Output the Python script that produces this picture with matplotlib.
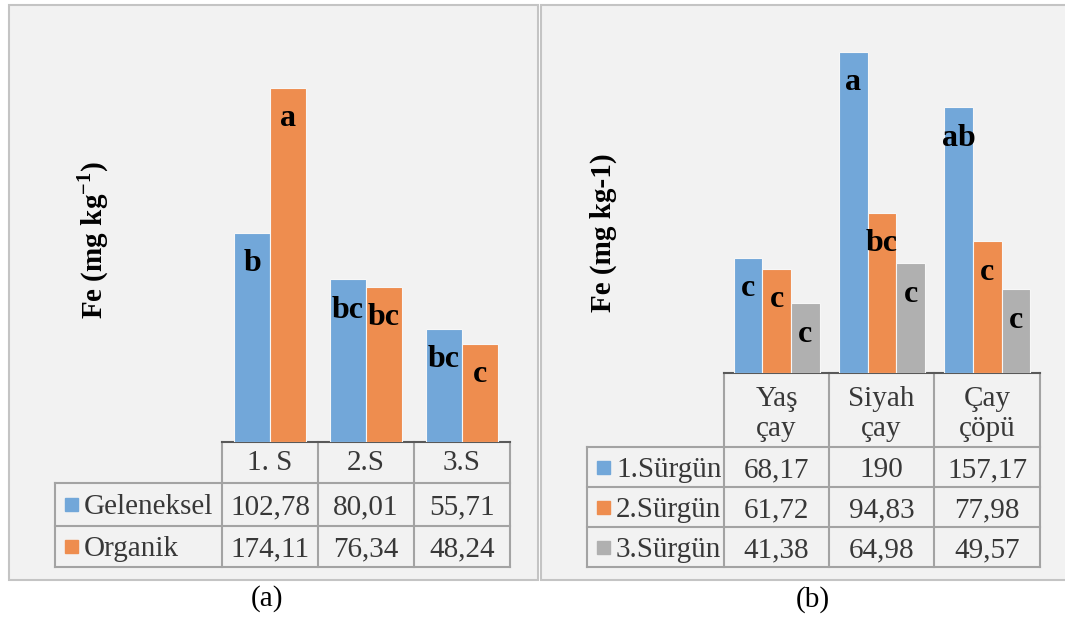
import matplotlib.pyplot as plt
import numpy as np
from matplotlib.patches import Rectangle

plt.rcParams['font.family'] = ['Liberation Serif', 'DejaVu Serif']
plt.rcParams['mathtext.fontset'] = 'custom'
plt.rcParams['mathtext.rm'] = 'Liberation Serif'
plt.rcParams['mathtext.bf'] = 'Liberation Serif:bold'

# panel (a) data
cats_a = ["1. S", "2.S", "3.S"]
series_a = ["Geleneksel", "Organik"]
geleneksel = [102.78, 80.01, 55.71]
organik = [174.11, 76.34, 48.24]
letters_geleneksel = ["b", "bc", "bc"]
letters_organik = ["a", "bc", "c"]

# panel (b) data
cats_b = ["Yaş\nçay", "Siyah\nçay", "Çay\nçöpü"]
series_b = ["1.Sürgün", "2.Sürgün", "3.Sürgün"]
surgun1 = [68.17, 190, 157.17]
surgun2 = [61.72, 94.83, 77.98]
surgun3 = [41.38, 64.98, 49.57]
letters_s1 = ["c", "a", "ab"]
letters_s2 = ["c", "bc", "c"]
letters_s3 = ["c", "c", "c"]

blue = '#72a7d9'
orange = '#ee8d4f'
gray = '#b0b0b0'
txt_gray = '#383838'
grid_col = '#a3a3a3'

W, H = 1065, 620
fig = plt.figure(figsize=(W / 100, H / 100), dpi=100)
fig.patch.set_facecolor('white')

# full-figure overlay in pixel coordinates for frames and tables
bg = fig.add_axes([0, 0, 1, 1])
bg.set_xlim(0, W)
bg.set_ylim(H, 0)
bg.axis('off')


def px_axes(x0, y0, x1, y1):
    ax = fig.add_axes([x0 / W, 1 - y1 / H, (x1 - x0) / W, (y1 - y0) / H])
    ax.patch.set_alpha(0)
    return ax


def fmt(v):
    if v == int(v):
        return str(int(v))
    return f"{v:.2f}".replace('.', ',')


def draw_table(x_lab, col_edges, y_base, row_edges, headers, names, colors, data, head_dy=1):
    # header cells (no label cell)
    for x in col_edges:
        bg.plot([x, x], [y_base, row_edges[-1]], color=grid_col, lw=1.5, zorder=2)
    for y in row_edges:
        bg.plot([x_lab, col_edges[-1]], [y, y], color=grid_col, lw=1.5, zorder=2)
    bg.plot([x_lab, x_lab], [row_edges[0], row_edges[-1]], color=grid_col, lw=1.5, zorder=2)
    for j, h in enumerate(headers):
        cx = (col_edges[j] + col_edges[j + 1]) / 2
        bg.text(cx, (y_base + row_edges[0]) / 2 + head_dy, h, ha='center', va='center',
                fontsize=21, color=txt_gray, linespacing=1.2)
    for i, (name, c, vals) in enumerate(zip(names, colors, data)):
        cy = (row_edges[i] + row_edges[i + 1]) / 2
        bg.add_patch(Rectangle((x_lab + 10, cy - 6.5), 13, 13, color=c, zorder=3))
        bg.text(x_lab + 29, cy, name, ha='left', va='center_baseline', fontsize=21, color=txt_gray)
        for j, v in enumerate(vals):
            cx = (col_edges[j] + col_edges[j + 1]) / 2
            bg.text(cx, cy, fmt(v), ha='center', va='center_baseline', fontsize=21, color=txt_gray)


# panel frames
bg.add_patch(Rectangle((9, 4.5), 529, 575.5, facecolor='#f2f2f2', edgecolor='#c4c4c4', lw=1.5))
bg.add_patch(Rectangle((541, 4.5), 530, 575.5, facecolor='#f2f2f2', edgecolor='#c4c4c4', lw=1.5))

# ---- panel (a)
ax_a = px_axes(222, 35, 510, 442)
x = np.arange(len(cats_a))
w = 0.375
for vals, lets, c, off in [(geleneksel, letters_geleneksel, blue, -w / 2),
                           (organik, letters_organik, orange, w / 2)]:
    ax_a.bar(x + off, vals, w, color=c, edgecolor='#f7f7f7', lw=0.8)
    for xi, v, l in zip(x + off, vals, lets):
        ax_a.annotate(l, (xi, v), xytext=(0, -31), textcoords='offset pixels',
                      ha='center', va='center', fontsize=23, fontweight='bold')
ax_a.set_xlim(-0.5, 2.5)
ax_a.set_ylim(0, 200)
ax_a.axis('off')
bg.plot([222, 510], [442, 442], color='#595959', lw=1.5, zorder=4)
draw_table(55, [222, 318, 414, 510], 442, [483, 526, 567], cats_a, series_a,
           [blue, orange], [geleneksel, organik])
bg.text(93, 240, r"Fe (mg kg$^{\mathbf{-1}}$)", rotation=90, ha='center', va='center',
        fontsize=21, fontweight='bold')
bg.text(267, 599, "(a)", ha='center', va='center', fontsize=21)

# ---- panel (b)
ax_b = px_axes(724, 35, 1040, 373)
x = np.arange(len(cats_b))
w = 0.273
for vals, lets, c, off in [(surgun1, letters_s1, blue, -w), (surgun2, letters_s2, orange, 0),
                           (surgun3, letters_s3, gray, w)]:
    ax_b.bar(x + off, vals, w, color=c, edgecolor='#f7f7f7', lw=0.8)
    for xi, v, l in zip(x + off, vals, lets):
        ax_b.annotate(l, (xi, v), xytext=(0, -31), textcoords='offset pixels',
                      ha='center', va='center', fontsize=23, fontweight='bold')
ax_b.set_xlim(-0.5, 2.5)
ax_b.set_ylim(0, 200)
ax_b.axis('off')
bg.plot([724, 1040], [373, 373], color='#595959', lw=1.5, zorder=4)
draw_table(587, [724, 829, 934, 1040], 373, [447, 487, 527, 567], cats_b, series_b,
           [blue, orange, gray], [surgun1, surgun2, surgun3], head_dy=4)
bg.text(603, 233, "Fe (mg kg-1)", rotation=90, ha='center', va='center',
        fontsize=21, fontweight='bold')
bg.text(813, 600, "(b)", ha='center', va='center', fontsize=21)

fig.savefig('out.png', dpi=100)
